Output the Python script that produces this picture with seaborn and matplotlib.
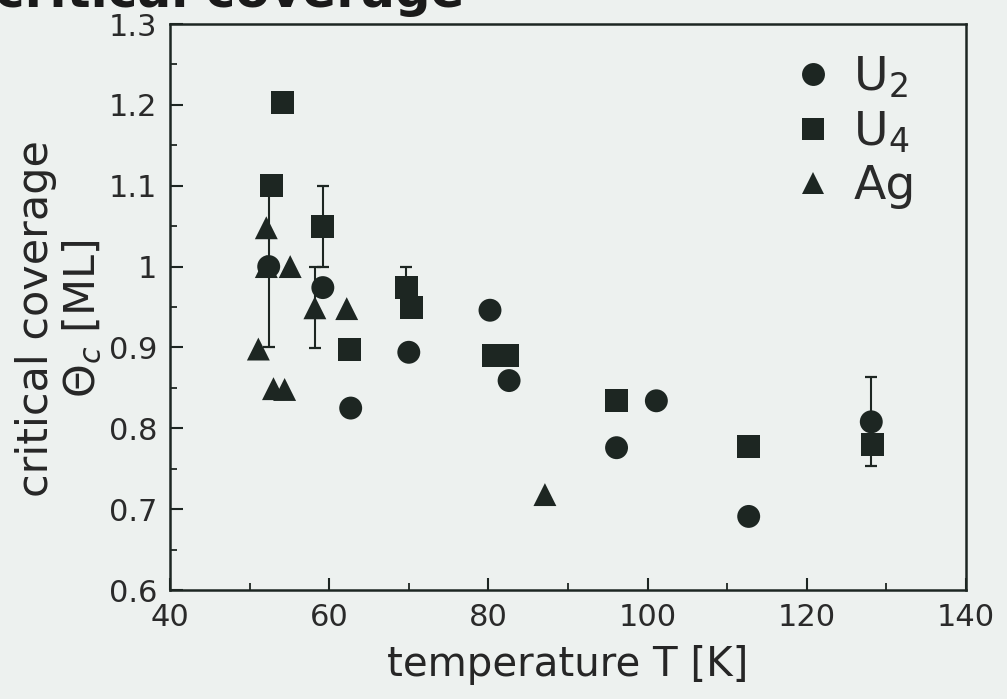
import numpy as np
import pandas as pd
import matplotlib
matplotlib.use("Agg")
import matplotlib.pyplot as plt
from matplotlib.lines import Line2D
from matplotlib.ticker import MultipleLocator, FormatStrFormatter
import seaborn as sns

# --- data -------------------------------------------------------------
series_names = ["U$_2$", "U$_4$", "Ag"]

u2_T = [52.4, 59.2, 62.7, 70.0, 80.2, 82.6, 96.1, 101.1, 112.7, 128.1]
u2_theta = [1.000, 0.974, 0.825, 0.894, 0.946, 0.859, 0.776, 0.834, 0.691, 0.808]
u2_err = [0.10, 0, 0, 0, 0, 0, 0, 0, 0, 0.055]

u4_T = [54.1, 52.7, 59.2, 62.6, 69.7, 70.3, 80.6, 82.4, 96.1, 112.7, 128.2]
u4_theta = [1.203, 1.100, 1.050, 0.898, 0.974, 0.949, 0.890, 0.890, 0.834, 0.778, 0.780]
u4_err = [0, 0, 0.05, 0, 0.025, 0, 0, 0, 0, 0, 0]

ag_T = [52.1, 52.1, 55.1, 58.2, 62.2, 51.1, 53.0, 54.4, 87.1]
ag_theta = [1.048, 1.000, 1.000, 0.949, 0.948, 0.898, 0.849, 0.848, 0.718]
ag_err = [0, 0, 0, 0.05, 0, 0, 0, 0, 0]

x_ticks = [40, 60, 80, 100, 120, 140]
y_ticks = [0.6, 0.7, 0.8, 0.9, 1.0, 1.1, 1.2, 1.3]

df = pd.concat([
    pd.DataFrame({"T": u2_T, "theta": u2_theta, "err": u2_err, "series": series_names[0]}),
    pd.DataFrame({"T": u4_T, "theta": u4_theta, "err": u4_err, "series": series_names[1]}),
    pd.DataFrame({"T": ag_T, "theta": ag_theta, "err": ag_err, "series": series_names[2]}),
], ignore_index=True)

# --- style -------------------------------------------------------------
BG = "#edf1ef"
INK = "#1d2622"
sns.set_theme(style="ticks")
plt.rcParams["font.family"] = ["DejaVu Sans"]
plt.rcParams["axes.edgecolor"] = INK
plt.rcParams["text.color"] = "#2a2a2a"

W, H = 1007, 699
AX_L, AX_R, AX_T, AX_B = 170, 966, 24, 590
fig = plt.figure(figsize=(W / 100, H / 100), dpi=100, facecolor=BG)
ax = fig.add_axes([AX_L / W, 1 - AX_B / H, (AX_R - AX_L) / W, (AX_B - AX_T) / H])
ax.set_facecolor(BG)

markers = {series_names[0]: "o", series_names[1]: "s", series_names[2]: "^"}
msize = 16.5

# error bars first, markers on top
eb = df[df["err"] > 0]
ax.errorbar(eb["T"], eb["theta"], yerr=eb["err"], fmt="none", ecolor=INK,
            elinewidth=1.5, capsize=4, capthick=1.6, zorder=2)

sns.scatterplot(data=df, x="T", y="theta", style="series", style_order=series_names,
                markers=markers, color=INK, s=msize ** 2, linewidth=0,
                edgecolor="none", legend=False, ax=ax, zorder=3)

# axes
ax.set_xlim(40, 140)
ax.set_ylim(0.6, 1.3)
ax.set_xticks(x_ticks)
ax.set_yticks(y_ticks)
ax.xaxis.set_minor_locator(MultipleLocator(10))
ax.yaxis.set_minor_locator(MultipleLocator(0.05))
ax.yaxis.set_major_formatter(FormatStrFormatter("%g"))
ax.tick_params(which="major", direction="in", length=9, width=1.5, top=False, right=False,
               labelsize=22, colors=INK, labelcolor="#2a2a2a", pad=9)
ax.tick_params(which="minor", direction="in", length=5, width=1.3, top=False, right=False,
               colors=INK)
for sp in ax.spines.values():
    sp.set_visible(True)
    sp.set_linewidth(1.8)
    sp.set_color(INK)

ax.set_xlabel("temperature T [K]", fontsize=29, labelpad=10)
ax.set_ylabel("critical coverage\n$\\Theta_c$ [ML]", fontsize=31, linespacing=1.1)
ax.yaxis.set_label_coords((104 - AX_L) / (AX_R - AX_L), 0.48)

# legend
handles = [Line2D([], [], linestyle="none", marker=markers[n], color=INK,
                  markersize=msize, markeredgewidth=0) for n in series_names]
ax.legend(handles, series_names, loc="upper left", frameon=False, fontsize=34,
          handlelength=1.0, handletextpad=0.35, labelspacing=0.19,
          borderpad=0.2, borderaxespad=0.0,
          bbox_to_anchor=((780 - AX_L) / (AX_R - AX_L), 1 - 22 / (AX_B - AX_T)))

# heading above the plot, cut by the top edge
fig.text(-0.005, 1 - 7 / H, "critical coverage", fontsize=36, fontweight="bold",
         color="#1a1a1a", ha="left", va="baseline")

fig.savefig("out.png", dpi=100, facecolor=BG)
